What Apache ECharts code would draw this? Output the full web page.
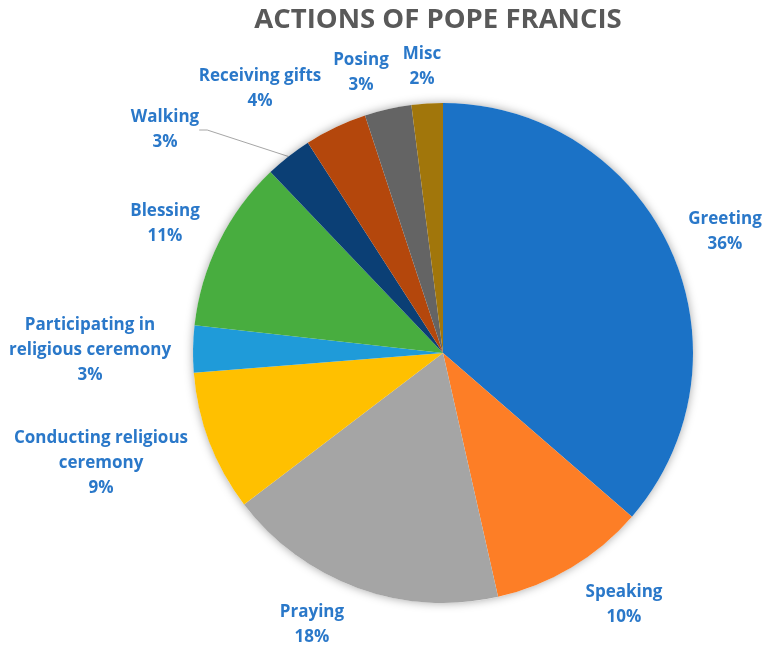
<!DOCTYPE html>
<html>
<head>
<meta charset="utf-8">
<script src="https://cdn.jsdelivr.net/npm/echarts@6/dist/echarts.min.js"></script>
<style>
  html, body { margin: 0; padding: 0; background: #ffffff; }
  #chart { width: 766px; height: 650px; }
</style>
</head>
<body>
<div id="chart"></div>
<script>
// Share of each action (percent), clockwise from 12 o'clock
const categories = [
  'Greeting',
  'Speaking',
  'Praying',
  'Conducting religious\nceremony',
  'Participating in\nreligious ceremony',
  'Blessing',
  'Walking',
  'Receiving gifts',
  'Posing',
  'Misc'
];
const shares = [36, 10, 18, 9, 3, 11, 3, 4, 3, 2];
const sliceColors = [
  '#1B72C6', '#FD7E26', '#A5A5A5', '#FFC000', '#1F9BD9',
  '#48AD3F', '#0B3F75', '#B4470C', '#646464', '#A1760B'
];

// Label anchor points (text block centres) around the pie
const labelCenters = [
  [725, 232], [624, 605], [312, 625], [101, 463], [90, 350],
  [165, 224], [165, 130], [260, 89], [361, 73], [422, 67]
];

const FONT = '"Open Sans", Lato, sans-serif';
const chart = echarts.init(document.getElementById('chart'), null, { renderer: 'canvas' });

chart.setOption({
  animation: false,
  backgroundColor: '#ffffff',
  title: {
    text: 'ACTIONS OF POPE FRANCIS',
    left: 433,
    textAlign: 'center',
    top: 1,
    textStyle: { fontFamily: FONT, fontWeight: 'bold', fontSize: 27.5, color: '#595959' }
  },
  series: [
    {
      // soft drop shadow behind the whole disc
      type: 'pie',
      center: [443, 353],
      radius: 250,
      silent: true,
      label: { show: false },
      labelLine: { show: false },
      itemStyle: { color: '#ffffff', shadowBlur: 10, shadowColor: 'rgba(0,0,0,0.35)' },
      data: [{ value: 1, name: '' }]
    },
    {
      type: 'pie',
      center: [443, 353],
      radius: 250,
      startAngle: 90,
      clockwise: true,
      avoidLabelOverlap: false,
      itemStyle: { borderWidth: 0 },
      label: {
        show: true,
        position: 'outside',
        formatter: p => p.name + '\n' + p.value + '%',
        fontFamily: FONT,
        fontWeight: 'bold',
        fontSize: 17,
        lineHeight: 25,
        color: '#2A78C9',
        align: 'center'
      },
      labelLine: { show: false },
      labelLayout: p => ({
        x: labelCenters[p.dataIndex][0],
        y: labelCenters[p.dataIndex][1],
        align: 'center',
        verticalAlign: 'middle'
      }),
      data: categories.map((name, i) => ({
        name,
        value: shares[i],
        itemStyle: { color: sliceColors[i] },
        labelLine: i === 6
          ? { show: true, length: 40, length2: 8, lineStyle: { color: '#A6A6A6', width: 1 } }
          : { show: false }
      }))
    }
  ]
});
</script>
</body>
</html>
